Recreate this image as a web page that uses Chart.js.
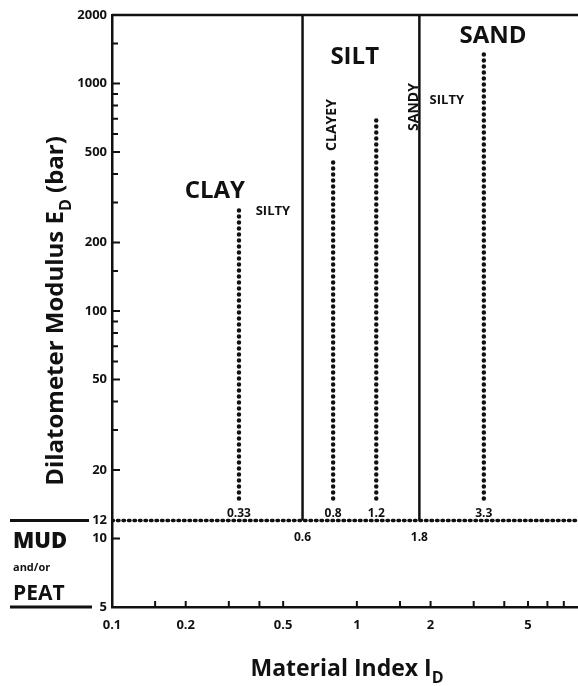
<!DOCTYPE html>
<html>
<head>
<meta charset="utf-8">
<script src="https://cdn.jsdelivr.net/npm/chart.js@4.4.1/dist/chart.umd.min.js"></script>
<style>
  html, body { margin: 0; padding: 0; background: #fff; }
  #wrap { width: 578px; height: 686px; }
</style>
</head>
<body>
<div id="wrap"><canvas id="chart"></canvas></div>
<script>
// soil type boundaries on material index I_D (solid lines)
const boundaryIndex = [0.6, 1.8];
const boundaryFrom = 12;
const boundaryTo = 2000;

// sub-division lines (dotted), I_D and top E_D value
const subIndex = [0.33, 0.8, 1.2, 3.3];
const subTop = [280, 450, 700, 1400];
const subBottom = 15;

// MUD and/or PEAT limit on E_D
const mudLimit = 12;

// axes
const xRange = [0.1, 8];
const yRange = [5, 2000];
const xTickLabels = [0.1, 0.2, 0.5, 1, 2, 5];
const xMinorTicks = [0.15, 0.3, 0.4, 1.5, 3, 4, 6, 7];
const yTickLabels = [5, 10, 12, 20, 50, 100, 200, 500, 1000, 2000];
const yMinorTicks = [30, 40, 60, 70, 80, 90, 150, 300, 400, 600, 700, 800, 900, 1500];

const INK = '#111';
const FONT = '"Open Sans", "DejaVu Sans", sans-serif';

// zone names placed in data coordinates
const zoneLabels = [
    { text: 'CLAY', x: 0.263, y: 337, size: 24 },
    { text: 'SILTY', x: 0.454, y: 275, size: 13 },
    { text: 'SILT', x: 0.98, y: 1307, size: 24 },
    { text: 'CLAYEY', x: 0.79, y: 657, size: 14, rotate: true },
    { text: 'SANDY', x: 1.71, y: 788, size: 14, rotate: true },
    { text: 'SILTY', x: 2.33, y: 846, size: 13 },
    { text: 'SAND', x: 3.6, y: 1617, size: 24 }
];

const datasets = [];
boundaryIndex.forEach(v => {
    datasets.push({
        data: [{ x: v, y: boundaryFrom }, { x: v, y: boundaryTo }],
        showLine: true, borderColor: INK, borderWidth: 2.5, pointRadius: 0
    });
});
subIndex.forEach((v, i) => {
    datasets.push({
        data: [{ x: v, y: subBottom }, { x: v, y: subTop[i] }],
        showLine: true, borderColor: INK, borderWidth: 4.5,
        borderDash: [0, 6], borderCapStyle: 'round', pointRadius: 0
    });
});
datasets.push({
    data: [{ x: xRange[0], y: mudLimit }, { x: xRange[1], y: mudLimit }],
    showLine: true, borderColor: INK, borderWidth: 3.5,
    borderDash: [1.5, 4], borderCapStyle: 'round', pointRadius: 0
});

// draws a string with a subscript part, centred on (cx, cy)
const drawSubText = (ctx, parts, cx, cy, size) => {
    const big = `700 ${size}px ${FONT}`;
    const small = `700 ${Math.round(size * 0.68)}px ${FONT}`;
    let total = 0;
    parts.forEach(p => { ctx.font = p.sub ? small : big; total += ctx.measureText(p.t).width; });
    let x = cx - total / 2;
    ctx.textAlign = 'left';
    ctx.textBaseline = 'alphabetic';
    parts.forEach(p => {
        ctx.font = p.sub ? small : big;
        ctx.fillText(p.t, x, cy + (p.sub ? size * 0.3 : 0) + size * 0.35);
        x += ctx.measureText(p.t).width;
    });
};

const decorPlugin = {
    id: 'decor',
    afterDraw(chart) {
        const { ctx, chartArea: area, scales: { x, y } } = chart;
        ctx.save();
        ctx.strokeStyle = INK;
        ctx.fillStyle = INK;

        // top frame line
        ctx.lineWidth = 2.5;
        ctx.beginPath();
        ctx.moveTo(area.left, area.top);
        ctx.lineTo(area.right, area.top);
        ctx.stroke();

        // inside tick marks
        ctx.lineWidth = 2;
        ctx.beginPath();
        yTickLabels.concat(yMinorTicks).forEach(v => {
            if (v === yRange[0] || v === yRange[1] || v === mudLimit) return;
            const py = y.getPixelForValue(v);
            const len = yMinorTicks.includes(v) ? 6 : 8;
            ctx.moveTo(area.left, py);
            ctx.lineTo(area.left + len, py);
        });
        xTickLabels.concat(xMinorTicks).forEach(v => {
            if (v === xRange[0]) return;
            const px = x.getPixelForValue(v);
            ctx.moveTo(px, area.bottom);
            ctx.lineTo(px, area.bottom - 6);
        });
        ctx.stroke();

        // zone names
        zoneLabels.forEach(l => {
            const px = x.getPixelForValue(l.x);
            const py = y.getPixelForValue(l.y);
            ctx.font = `700 ${l.size}px ${FONT}`;
            ctx.textAlign = 'center';
            ctx.textBaseline = 'middle';
            ctx.save();
            ctx.translate(px, py);
            if (l.rotate) ctx.rotate(-Math.PI / 2);
            ctx.fillText(l.text, 0, 0);
            ctx.restore();
        });

        // values of the dotted sub-divisions, above the 12 line
        const yMud = y.getPixelForValue(mudLimit);
        ctx.font = `700 12px ${FONT}`;
        ctx.textAlign = 'center';
        ctx.textBaseline = 'bottom';
        subIndex.forEach(v => ctx.fillText(String(v), x.getPixelForValue(v), yMud - 1));
        // values of the boundaries, below the 12 line
        ctx.textBaseline = 'top';
        boundaryIndex.forEach(v => ctx.fillText(String(v), x.getPixelForValue(v), yMud + 11));

        // MUD and/or PEAT box on the left
        const yBot = y.getPixelForValue(yRange[0]);
        ctx.lineWidth = 3;
        ctx.beginPath();
        ctx.moveTo(10, yMud);
        ctx.lineTo(89, yMud);
        ctx.moveTo(10, yBot);
        ctx.lineTo(92, yBot);
        ctx.stroke();
        ctx.textAlign = 'left';
        ctx.textBaseline = 'alphabetic';
        ctx.font = `800 22px ${FONT}`;
        ctx.fillText('MUD', 13, yMud + 28);
        ctx.font = `700 11px ${FONT}`;
        ctx.fillText('and/or', 13, yMud + 51);
        ctx.font = `700 21px ${FONT}`;
        ctx.fillText('PEAT', 13, yBot - 7);

        // axis titles
        drawSubText(ctx, [{ t: 'Material Index I' }, { t: 'D', sub: true }], 347, 668, 23);
        ctx.save();
        ctx.translate(55, 311);
        ctx.rotate(-Math.PI / 2);
        drawSubText(ctx, [{ t: 'Dilatometer Modulus E' }, { t: 'D', sub: true }, { t: ' (bar)' }], 0, 0, 24);
        ctx.restore();

        ctx.restore();
    }
};

const tickFont = { family: FONT, weight: 'bold', size: 13 };

new Chart(document.getElementById('chart'), {
    type: 'scatter',
    data: { datasets },
    options: {
        responsive: true,
        maintainAspectRatio: false,
        animation: false,
        layout: { padding: { top: 15, left: 0, right: 0, bottom: 0 } },
        plugins: { legend: { display: false }, tooltip: { enabled: false } },
        scales: {
            x: {
                type: 'logarithmic',
                min: xRange[0],
                max: xRange[1],
                afterBuildTicks: s => { s.ticks = xTickLabels.map(v => ({ value: v })); },
                afterFit: s => { s.height = 79; },
                ticks: { autoSkip: false, maxRotation: 0, color: INK, font: tickFont, padding: 10, callback: v => String(v) },
                grid: { display: false, drawTicks: false },
                border: { display: true, color: INK, width: 2.5 }
            },
            y: {
                type: 'logarithmic',
                min: yRange[0],
                max: yRange[1],
                afterBuildTicks: s => { s.ticks = yTickLabels.map(v => ({ value: v })); },
                afterFit: s => { s.width = 112; },
                ticks: { autoSkip: false, color: INK, font: tickFont, padding: 5, callback: v => String(v) },
                grid: { display: false, drawTicks: false },
                border: { display: true, color: INK, width: 2.5 }
            }
        }
    },
    plugins: [decorPlugin]
});
</script>
</body>
</html>
